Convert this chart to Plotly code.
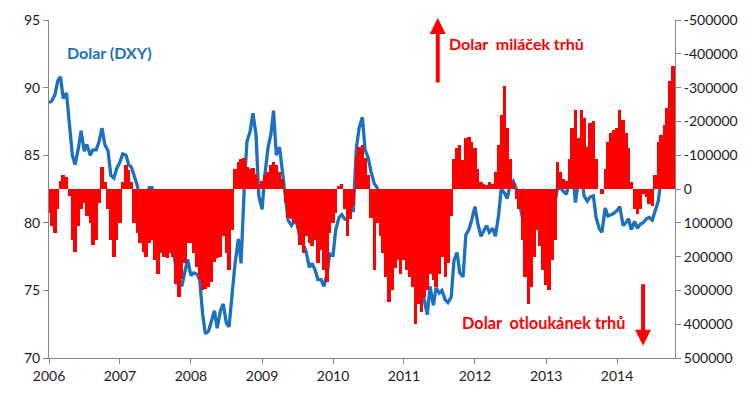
import pandas as pd
import plotly.graph_objects as go

# semi-monthly observations, Jan 2006 - Oct 2014
dates = pd.date_range("2006-01-01", "2014-10-15", freq="SMS")

dxy = [
    # 2006
    88.9, 89.0, 89.5, 90.5, 90.8, 89.2, 89.6, 87.5, 85.0, 84.3, 85.5, 86.8,
    85.3, 85.8, 85.0, 85.4, 85.4, 86.0, 87.0, 85.8, 85.3, 83.5, 83.3, 84.0,
    # 2007
    84.5, 85.1, 85.0, 84.3, 84.1, 83.5, 82.7, 81.8, 81.8, 82.0, 82.6, 82.6,
    81.4, 80.5, 80.6, 80.3, 79.7, 78.8, 78.0, 76.8, 75.8, 75.3, 76.5, 77.3,
    # 2008
    76.1, 76.3, 76.2, 75.8, 73.3, 71.8, 72.0, 72.8, 73.5, 72.2, 73.5, 74.0,
    72.6, 72.3, 75.0, 77.0, 78.8, 77.0, 82.5, 86.0, 86.8, 88.1, 86.5, 82.0,
    # 2009
    81.0, 83.5, 85.6, 86.5, 88.3, 85.0, 85.6, 84.0, 81.8, 80.2, 79.8, 80.1,
    79.9, 78.8, 78.4, 77.9, 76.7, 77.0, 76.5, 75.8, 75.8, 75.3, 76.2, 77.7,
    # 2010
    77.6, 79.5, 80.4, 80.6, 80.3, 80.2, 81.4, 80.8, 85.5, 87.0, 87.8, 85.4,
    84.8, 83.8, 82.9, 82.6, 82.0, 79.2, 77.8, 77.3, 77.6, 79.0, 80.2, 80.7,
    # 2011
    80.9, 79.0, 78.0, 77.6, 77.0, 76.2, 75.5, 74.3, 73.2, 75.3, 73.9, 75.2,
    74.8, 75.0, 74.3, 74.1, 74.5, 77.2, 77.8, 76.3, 76.0, 79.1, 79.5, 80.2,
    # 2012
    81.2, 80.0, 79.0, 79.4, 79.8, 79.3, 79.6, 79.0, 80.5, 82.5, 82.2, 81.8,
    82.9, 83.1, 82.5, 81.6, 80.2, 79.4, 79.8, 80.2, 80.9, 80.5, 79.6, 80.3,
    # 2013
    79.8, 79.5, 80.0, 81.5, 82.5, 82.6, 82.3, 82.1, 83.0, 84.2, 81.5, 83.0,
    84.0, 82.0, 81.6, 81.9, 82.0, 80.4, 79.6, 79.3, 81.1, 80.5, 80.6, 80.7,
    # 2014
    80.9, 81.2, 79.8, 80.0, 80.3, 79.5, 80.1, 79.6, 79.9, 80.0, 80.3, 80.4,
    80.2, 80.9, 81.6, 83.2, 85.2, 86.0, 85.4, 87.4,
]

positions = [
    # 2006
    70000, 110000, 130000, 60000, -25000, -40000, -35000, 20000, 150000, 185000, 110000, 60000,
    40000, 80000, 100000, 165000, 150000, 40000, -65000, -20000, 60000, 150000, 200000, 150000,
    # 2007
    100000, -20000, -70000, -55000, -20000, 100000, 130000, 160000, 185000, 200000, 160000, 150000,
    210000, 250000, 190000, 200000, 205000, 190000, 200000, 280000, 320000, 265000, 220000, 160000,
    # 2008
    160000, 190000, 230000, 270000, 300000, 295000, 290000, 275000, 215000, 205000, 200000, 140000,
    190000, 240000, 120000, -60000, -80000, -90000, -92000, -65000, -60000, -62000, -45000, -15000,
    # 2009
    -25000, -40000, -50000, -70000, -80000, -70000, -50000, -30000, 40000, 85000, 90000, 100000,
    115000, 165000, 190000, 140000, 160000, 170000, 150000, 220000, 180000, 240000, 275000, 130000,
    # 2010
    100000, 70000, -10000, -15000, 60000, 140000, 90000, 50000, -100000, -125000, -130000, -92000,
    -40000, 85000, 240000, 100000, 140000, 190000, 260000, 335000, 300000, 235000, 210000, 250000,
    # 2011
    210000, 240000, 260000, 290000, 400000, 340000, 365000, 320000, 300000, 250000, 270000, 290000,
    250000, 200000, 260000, 220000, 80000, -90000, -120000, -130000, -85000, -150000, -155000, -140000,
    # 2012
    -120000, -60000, -20000, -15000, -12000, -22000, -15000, -50000, -130000, -220000, -305000, -180000,
    -90000, -20000, 30000, 60000, 150000, 260000, 340000, 290000, 200000, 120000, 170000, 240000,
    # 2013
    285000, 300000, 210000, 150000, -80000, -50000, -30000, -25000, -90000, -180000, -235000, -150000,
    -235000, -210000, -125000, -195000, -200000, -90000, 0, 15000, -60000, -140000, -165000, -175000,
    # 2014
    -180000, -235000, -205000, -165000, -120000, -20000, 60000, 73000, 60000, 15000, 25000, 45000,
    50000, -40000, -140000, -160000, -190000, -240000, -320000, -365000,
]

right_ticks = [-500000, -400000, -300000, -200000, -100000, 0,
               100000, 200000, 300000, 400000, 500000]
right_labels = [str(v) for v in right_ticks]
year_ticks = [f"{y}-01-01" for y in range(2006, 2015)]
year_labels = [str(y) for y in range(2006, 2015)]

RED = "#ff0000"
BLUE = "#1c70c0"
AXIS = "#868686"
FONT = "Lato, 'Open Sans', sans-serif"

fig = go.Figure()
fig.add_trace(go.Bar(
    x=dates, y=positions, yaxis="y2",
    width=[17.5 * 86400000] * len(dates),
    marker=dict(color=RED, line=dict(width=0)),
    showlegend=False,
))
fig.add_trace(go.Scatter(
    x=dates, y=dxy, mode="lines",
    line=dict(color=BLUE, width=3.3),
    showlegend=False,
))

fig.update_layout(
    width=751, height=398,
    margin=dict(l=49, r=76, t=20, b=40),
    paper_bgcolor="white", plot_bgcolor="white",
    font=dict(family=FONT, size=14, color="#1a1a1a"),
    bargap=0,
    xaxis=dict(
        type="date", range=["2006-01-01", "2014-10-26"],
        tickvals=year_ticks, ticktext=year_labels,
        showgrid=False, zeroline=False, automargin=False,
        showline=True, linecolor=AXIS, linewidth=1,
        ticks="outside", ticklen=5, tickcolor=AXIS,
    ),
    yaxis=dict(
        range=[70, 95], dtick=5, showgrid=False, zeroline=False, automargin=False,
        showline=True, linecolor=AXIS, linewidth=1,
        ticks="outside", ticklen=5, tickcolor=AXIS,
    ),
    yaxis2=dict(
        overlaying="y", side="right", range=[500000, -500000],
        tickvals=right_ticks, ticktext=right_labels,
        showgrid=False, zeroline=False, automargin=False,
        showline=True, linecolor=AXIS, linewidth=1,
        ticks="outside", ticklen=5, tickcolor=AXIS,
    ),
    annotations=[
        dict(text="<b>Dolar (DXY)</b>", xref="paper", yref="paper",
             x=0.026, y=0.905, xanchor="left", yanchor="middle",
             showarrow=False, font=dict(color=BLUE, size=16, family=FONT)),
        dict(text="<b>Dolar  miláček trhů</b>", xref="paper", yref="paper",
             x=0.635, y=0.929, xanchor="left", yanchor="middle",
             showarrow=False, font=dict(color=RED, size=16, family=FONT)),
        dict(text="<b>Dolar  otloukánek trhů</b>", xref="paper", yref="paper",
             x=0.657, y=0.104, xanchor="left", yanchor="middle",
             showarrow=False, font=dict(color=RED, size=16.3, family=FONT)),
        dict(text="", xref="paper", yref="paper", x=0.621, y=1.006,
             showarrow=True, ax=0, ay=66, arrowcolor=RED, arrowwidth=4,
             arrowhead=2, arrowsize=0.8),
        dict(text="", xref="paper", yref="paper", x=0.949, y=0.036,
             showarrow=True, ax=0, ay=-63, arrowcolor=RED, arrowwidth=4,
             arrowhead=2, arrowsize=0.8),
    ],
)

fig.write_html("out.html", config={"displayModeBar": False},
               post_script="document.body.style.margin='0';")
